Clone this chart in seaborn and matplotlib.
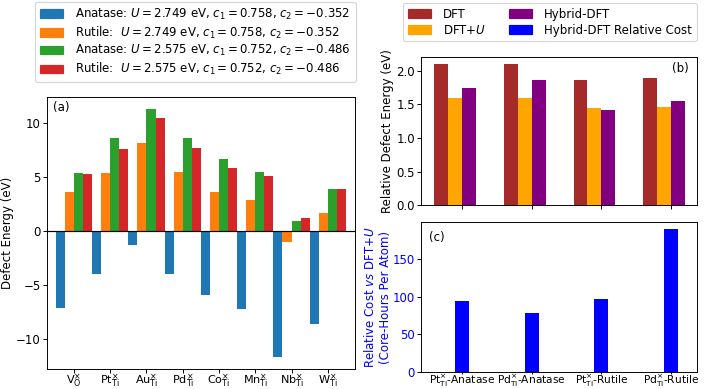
import matplotlib
matplotlib.use("Agg")
import matplotlib.pyplot as plt
import matplotlib.patches as mpatches
import seaborn as sns
import pandas as pd

# ---------------- data ----------------
defects = [r"$\mathrm{V}_{\mathrm{O}}^{\times}$", r"$\mathrm{Pt}_{\mathrm{Ti}}^{\times}$",
           r"$\mathrm{Au}_{\mathrm{Ti}}^{\times}$", r"$\mathrm{Pd}_{\mathrm{Ti}}^{\times}$",
           r"$\mathrm{Co}_{\mathrm{Ti}}^{\times}$", r"$\mathrm{Mn}_{\mathrm{Ti}}^{\times}$",
           r"$\mathrm{Nb}_{\mathrm{Ti}}^{\times}$", r"$\mathrm{W}_{\mathrm{Ti}}^{\times}$"]
series_a = [r"Anatase: $U = 2.749$ eV, $c_1 = 0.758$, $c_2 = -0.352$",
            r"Rutile:  $U = 2.749$ eV, $c_1 = 0.758$, $c_2 = -0.352$",
            r"Anatase: $U = 2.575$ eV, $c_1 = 0.752$, $c_2 = -0.486$",
            r"Rutile:  $U = 2.575$ eV, $c_1 = 0.752$, $c_2 = -0.486$"]
anatase_2749 = [-7.1, -4.0, -1.27, -4.0, -5.9, -7.15, -11.6, -8.55]
rutile_2749 = [3.65, 5.35, 8.2, 5.5, 3.6, 2.88, -0.99, 1.67]
anatase_2575 = [5.42, 8.6, 11.3, 8.6, 6.72, 5.5, 0.96, 3.93]
rutile_2575 = [5.3, 7.6, 10.43, 7.74, 5.85, 5.1, 1.27, 3.87]

systems = [r"Pt$_{\mathrm{Ti}}^{\times}$-Anatase", r"Pd$_{\mathrm{Ti}}^{\times}$-Anatase",
           r"Pt$_{\mathrm{Ti}}^{\times}$-Rutile", r"Pd$_{\mathrm{Ti}}^{\times}$-Rutile"]
methods = ["DFT", r"DFT+$U$", "Hybrid-DFT"]
dft = [2.104, 2.10, 1.857, 1.886]
dft_u = [1.59, 1.59, 1.442, 1.465]
hybrid = [1.743, 1.857, 1.41, 1.545]
cost_label = "Hybrid-DFT Relative Cost"
rel_cost = [94.8, 78.8, 96.6, 189.4]

colors_a = ["#1f77b4", "#ff7f0e", "#2ca02c", "#d62728"]
colors_b = ["brown", "orange", "purple"]
cost_color = "blue"

# ---------------- figure ----------------
DPI = 85
plt.rcParams["font.size"] = 10
W, H = 705, 389
fig = plt.figure(figsize=(W / DPI, H / DPI), dpi=DPI)


def px_axes(left, top, right, bottom):
    return fig.add_axes([left / W, 1 - bottom / H, (right - left) / W, (bottom - top) / H])


axa = px_axes(46.7, 96.7, 355, 369)
axb = px_axes(420.7, 56.7, 697, 205.3)
axc = px_axes(420.7, 221.7, 697, 372.3)

# ---- panel (a)
rows = []
for s, vals in zip(series_a, [anatase_2749, rutile_2749, anatase_2575, rutile_2575]):
    for d, v in zip(defects, vals):
        rows.append({"defect": d, "series": s, "energy": v})
df_a = pd.DataFrame(rows)
sns.barplot(data=df_a, x="defect", y="energy", hue="series", hue_order=series_a,
            order=defects, palette=colors_a, saturation=1, width=1.0,
            errorbar=None, legend=False, ax=axa)
axa.axhline(0, color="black", lw=1)
axa.set_xlim(-0.75, len(defects) - 0.25)
axa.set_xlabel("")
axa.set_ylabel("Defect Energy (eV)", labelpad=1.5)
axa.set_yticks([-10, -5, 0, 5, 10])
axa.tick_params(axis="x", pad=0, length=3, labelsize=9.5)
axa.tick_params(axis="y", pad=1.5)
axa.text(0.02, 0.985, "(a)", transform=axa.transAxes, ha="left", va="top")

handles_a = [mpatches.Patch(color=c, label=l) for c, l in zip(colors_a, series_a)]
fig.legend(handles=handles_a, loc="upper left", bbox_to_anchor=(35 / W, 1 - 2 / H),
           borderaxespad=0, frameon=True, handlelength=2.0,
           handletextpad=1.0, labelspacing=0.23)

# ---- panel (b)
rows = []
for m, vals in zip(methods, [dft, dft_u, hybrid]):
    for i, v in enumerate(vals):
        rows.append({"pos": i - 0.1, "method": m, "energy": v})
df_b = pd.DataFrame(rows)
sns.barplot(data=df_b, x="pos", y="energy", hue="method", hue_order=methods,
            palette=colors_b, saturation=1, width=0.6, native_scale=True,
            errorbar=None, legend=False, ax=axb)
axb.set_xlim(-0.59, 3.37)
axb.set_xticks(range(len(systems)))
axb.set_xticklabels([])
axb.set_xlabel("")
axb.set_ylabel("Relative Defect Energy (eV)", labelpad=2)
axb.set_yticks([0.0, 0.5, 1.0, 1.5, 2.0])
axb.tick_params(axis="y", pad=1.5)
axb.text(0.97, 0.965, "(b)", transform=axb.transAxes, ha="right", va="top")

handles_b = [mpatches.Patch(color=c, label=l) for c, l in zip(colors_b, methods)]
handles_b.append(mpatches.Patch(color=cost_color, label=cost_label))
fig.legend(handles=handles_b, loc="upper left", ncol=2,
           bbox_to_anchor=(403 / W, 1 - 3 / H), borderaxespad=0, frameon=True,
           handlelength=2.0, handletextpad=1.0, columnspacing=1.9,
           labelspacing=0.25)

# ---- panel (c)
df_c = pd.DataFrame({"pos": list(range(len(systems))), "cost": rel_cost})
sns.barplot(data=df_c, x="pos", y="cost", color=cost_color, saturation=1, width=0.2,
            native_scale=True, errorbar=None, ax=axc)
axc.set_xlim(-0.59, 3.37)
axc.set_xticks(range(len(systems)))
axc.set_xticklabels(systems)
axc.tick_params(axis="x", pad=-1.2, length=2, labelsize=9)
axc.set_xlabel("")
axc.set_ylabel("Relative Cost $vs$ DFT+$U$\n(Core-Hours Per Atom)", color=cost_color,
               labelpad=0.5)
axc.tick_params(axis="y", labelcolor=cost_color, pad=1.5)
axc.set_yticks([0, 50, 100, 150])
axc.text(0.03, 0.94, "(c)", transform=axc.transAxes, ha="left", va="top")

fig.savefig("out.png", dpi=DPI)
